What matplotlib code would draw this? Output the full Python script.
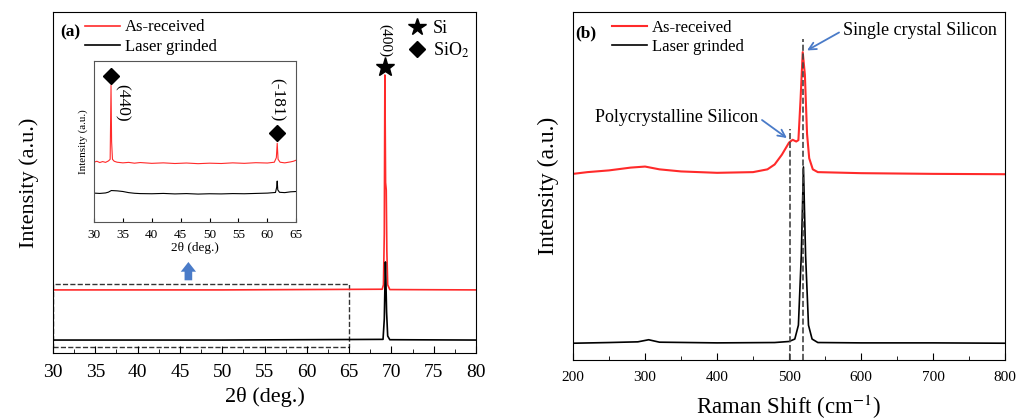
import matplotlib
matplotlib.use('Agg')
import matplotlib.pyplot as plt
from matplotlib.lines import Line2D
from matplotlib.patches import Rectangle

plt.rcParams['font.family'] = ['Liberation Serif', 'DejaVu Serif']
plt.rcParams['mathtext.fontset'] = 'stix'

# (a) XRD, main panel
xrd_red_x = [30, 50, 68.9, 69.05, 69.15, 69.22, 69.3, 69.38, 69.45, 69.55, 69.8, 80]
xrd_red_y = [0.185, 0.185, 0.187, 0.20, 0.35, 0.815, 0.50, 0.478, 0.30, 0.20, 0.186, 0.185]
xrd_blk_x = [30, 50, 69.0, 69.15, 69.28, 69.35, 69.42, 69.55, 69.8, 80]
xrd_blk_y = [0.038, 0.038, 0.040, 0.10, 0.267, 0.20, 0.12, 0.05, 0.039, 0.038]

# (a) inset, 30-65 deg
ins_red_x = [30, 30.5, 31, 31.5, 32, 32.5, 32.8, 32.95, 33.05, 33.2, 33.5, 34, 35, 36, 37, 38, 40,
             42, 44, 46, 48, 50, 52, 54, 56, 58, 60, 61.2, 61.55, 61.7, 61.85, 62.2, 63, 64, 64.5, 65]
ins_red_y = [0.372, 0.378, 0.370, 0.376, 0.371, 0.380, 0.390, 0.850, 0.500, 0.390, 0.378, 0.372, 0.368,
             0.371, 0.366, 0.370, 0.365, 0.368, 0.364, 0.367, 0.363, 0.366, 0.364, 0.368, 0.365, 0.369,
             0.367, 0.372, 0.400, 0.490, 0.390, 0.372, 0.368, 0.374, 0.378, 0.385]
ins_blk_x = [30, 31, 32, 32.5, 33, 34, 35, 36, 37, 38, 40, 42, 44, 46, 48, 50, 52, 54, 56, 58, 60,
             61.4, 61.6, 61.7, 61.8, 62.1, 63, 64, 65]
ins_blk_y = [0.180, 0.178, 0.181, 0.186, 0.196, 0.194, 0.190, 0.183, 0.179, 0.177, 0.176, 0.178,
             0.175, 0.177, 0.174, 0.176, 0.175, 0.177, 0.176, 0.178, 0.180, 0.184, 0.215, 0.255,
             0.200, 0.185, 0.183, 0.188, 0.190]

# (b) Raman
ram_red_x = [200, 220, 250, 280, 300, 320, 350, 400, 450, 470, 480, 490, 500, 505, 510, 513, 516,
             519, 522, 525, 528, 533, 540, 600, 700, 800]
ram_red_y = [0.535, 0.540, 0.545, 0.553, 0.556, 0.548, 0.542, 0.538, 0.540, 0.548, 0.562, 0.590,
             0.625, 0.633, 0.628, 0.632, 0.750, 0.885, 0.820, 0.650, 0.580, 0.548, 0.540, 0.537,
             0.535, 0.534]
ram_blk_x = [200, 250, 290, 305, 320, 400, 480, 500, 508, 513, 517, 520, 523, 527, 532, 540, 600, 700, 800]
ram_blk_y = [0.048, 0.050, 0.052, 0.058, 0.051, 0.049, 0.050, 0.053, 0.060, 0.100, 0.300, 0.555,
             0.300, 0.100, 0.060, 0.050, 0.049, 0.049, 0.048]
ram_lines = [502, 520]
ram_line_top = [0.664, 0.922]

red = '#ff2a2a'
blue = '#4a7bc8'
leg_kw = dict(loc='upper left', frameon=False, fontsize=12, handlelength=2.1, handletextpad=0.3,
              labelspacing=0.2, borderpad=0, borderaxespad=0)

fig = plt.figure(figsize=(10.27, 4.19), dpi=100)

# ---------------- (a)
ax = fig.add_axes([0.0516, 0.1575, 0.412, 0.814])
ax.plot(xrd_red_x, xrd_red_y, color=red, lw=1.2, label='As-received')
ax.plot(xrd_blk_x, xrd_blk_y, color='k', lw=1.2, label='Laser grinded')
ax.set_xlim(30, 80)
ax.set_ylim(0, 1)
ax.set_xticks(range(30, 81, 5))
ax.set_xticks([x + 2.5 for x in range(30, 80, 5)], minor=True)
ax.set_yticks([])
ax.tick_params(axis='x', direction='in', labelsize=14, length=5, pad=8)
ax.tick_params(axis='x', which='minor', direction='in', length=3)
ax.set_xlabel('2θ (deg.)', fontsize=16, labelpad=4)
ax.set_ylabel('Intensity (a.u.)', fontsize=16, labelpad=10)
ax.text(0.04, 0.94, '(a)', transform=ax.transAxes, fontsize=12.5, fontweight='bold',
        ha='center', va='center')
leg1 = ax.legend(bbox_to_anchor=(0.075, 0.978), **leg_kw)

ax.plot([69.25], [0.839], marker='*', color='k', ms=14, ls='none')
ax.text(69.25, 0.965, '(400)', rotation=270, ha='center', va='top', fontsize=11)

handles = [Line2D([], [], marker='*', color='k', ls='none', ms=13),
           Line2D([], [], marker='D', color='k', ls='none', ms=8)]
ax.legend(handles, ['Si', 'SiO$_2$'], loc='upper left', bbox_to_anchor=(0.838, 0.975),
          frameon=False, fontsize=13, handlelength=1, handletextpad=0.4, labelspacing=0.15,
          borderpad=0, borderaxespad=0)
ax.add_artist(leg1)

ax.add_patch(Rectangle((30, 0.018), 35, 0.184, fill=False, ls='--', lw=1, color='#333333'))
ax.annotate('', xy=(46, 0.275), xytext=(46, 0.205),
            arrowprops=dict(arrowstyle='simple,head_width=1.1,head_length=0.7,tail_width=0.55',
                            color=blue, lw=0))

# inset
ins = fig.add_axes([0.0915, 0.470, 0.197, 0.384])
ins.plot(ins_red_x, ins_red_y, color=red, lw=0.8)
ins.plot(ins_blk_x, ins_blk_y, color='k', lw=0.8)
ins.set_xlim(30, 65)
ins.set_ylim(0, 1)
ins.set_xticks(range(30, 66, 5))
ins.set_yticks([])
ins.tick_params(axis='x', direction='in', labelsize=9.5, length=3, pad=5)
ins.set_xlabel('2θ (deg.)', fontsize=9.5, labelpad=1)
ins.set_ylabel('Intensity (a.u.)', fontsize=8, labelpad=4)
ins.plot([33.0, 61.7], [0.907, 0.553], marker='D', color='k', ms=8, ls='none')
ins.text(34.85, 0.86, '(440)', rotation=270, ha='center', va='top', fontsize=12.5)
ins.text(61.7, 0.895, '(-181)', rotation=270, ha='center', va='top', fontsize=12.5)
for s in ins.spines.values():
    s.set_color('#555555')

# ---------------- (b)
bx = fig.add_axes([0.558, 0.141, 0.4206, 0.830])
bx.plot(ram_red_x, ram_red_y, color=red, lw=1.5, label='As-received')
bx.plot(ram_blk_x, ram_blk_y, color='k', lw=1.2, label='Laser grinded')
for xv, top in zip(ram_lines, ram_line_top):
    bx.plot([xv, xv], [0, top], color='#444444', ls='--', lw=1.2)
bx.set_xlim(200, 800)
bx.set_ylim(0, 1)
bx.set_xticks(range(200, 801, 100))
bx.set_xticks(range(250, 800, 100), minor=True)
bx.set_yticks([])
bx.tick_params(axis='x', direction='in', labelsize=11, length=5, pad=8)
bx.tick_params(axis='x', which='minor', direction='in', length=3)
bx.set_xlabel('Raman Shift (cm$^{-1}$)', fontsize=16.5, labelpad=6)
bx.set_ylabel('Intensity (a.u.)', fontsize=17, labelpad=10)
bx.text(0.03, 0.94, '(b)', transform=bx.transAxes, fontsize=12.5, fontweight='bold',
        ha='center', va='center')
bx.legend(bbox_to_anchor=(0.09, 0.978), **leg_kw)
bx.annotate('Single crystal Silicon', xy=(525, 0.89), xytext=(575, 0.948), fontsize=13,
            va='center', ha='left',
            arrowprops=dict(arrowstyle='->', color=blue, lw=1.3, shrinkA=1, shrinkB=0,
                            relpos=(0, 0.5)))
bx.annotate('Polycrystalline Silicon', xy=(497, 0.638), xytext=(457, 0.698), fontsize=13,
            va='center', ha='right',
            arrowprops=dict(arrowstyle='->', color=blue, lw=1.3, shrinkA=1, shrinkB=0,
                            relpos=(1, 0.5)))

fig.savefig('out.png', dpi=100)
